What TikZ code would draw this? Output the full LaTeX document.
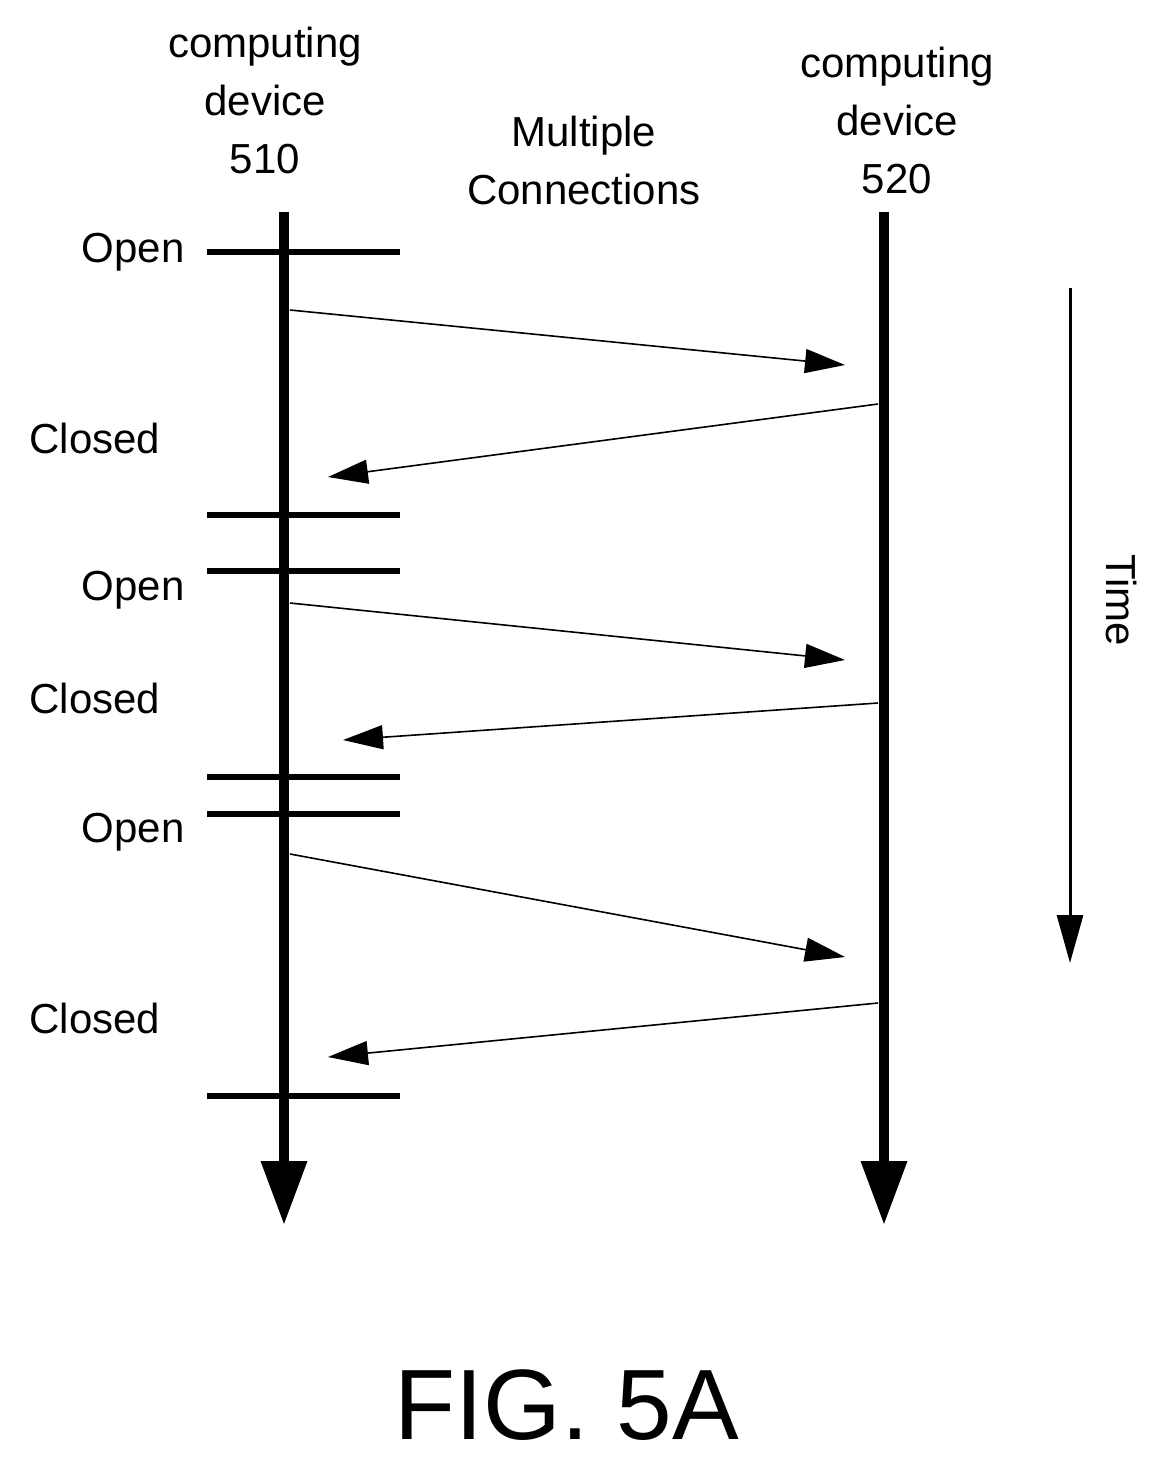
\documentclass[tikz,border=0pt]{standalone}
\usepackage{fontspec}
\setmainfont{Liberation Sans}
\usetikzlibrary{arrows.meta}
\begin{document}
\begin{tikzpicture}[x=0.5pt,y=-0.5pt,
  lbl/.style={font=\fontsize{21}{29}\selectfont,align=center,inner sep=0pt},
  timeline/.style={line width=5pt,-{Triangle[length=32pt,width=22pt]}},
  bar/.style={line width=3pt},
  msg/.style={line width=0.8pt,-{Triangle[length=20pt,width=12pt]}}]
\useasboundingbox (0,0) rectangle (1168,1463);
% timelines
\coordinate (A0) at (284,212); \coordinate (A1) at (284,1225);
\coordinate (B0) at (884,212); \coordinate (B1) at (884,1225);
\draw[timeline] (A0) -- (A1);
\draw[timeline] (B0) -- (B1);
% bars
\foreach \y [count=\i] in {252,515,571,777,814,1096}{
  \coordinate (bl\i) at (207,\y); \coordinate (br\i) at (400,\y);
  \draw[bar] (bl\i) -- (br\i);}
% messages
\foreach \ax/\ay/\bx/\by [count=\i] in {290/310/845/365, 878/404/328/477, 290/603/845/660, 878/703/343/740, 290/854/845/957, 878/1003/328/1057}{
  \coordinate (ms\i) at (\ax,\ay); \coordinate (me\i) at (\bx,\by);
  \draw[msg] (ms\i) -- (me\i);}
% time arrow
\coordinate (T0) at (1070,288); \coordinate (T1) at (1070,963);
\draw[line width=1.5pt,-{Triangle[length=24pt,width=13pt]}] (T0) -- (T1);
\node[lbl,rotate=-90] (time) at (1122,600) {Time};
% labels
\node[lbl] (d510) at (265,100) {computing\\device\\510};
\node[lbl] (d520) at (897,120) {computing\\device\\520};
\node[lbl] (mc) at (584,160) {Multiple\\Connections};
\node[lbl] (o1) at (133,252) {Open};
\node[lbl] (c1) at (95,438) {Closed};
\node[lbl] (o2) at (133,590) {Open};
\node[lbl] (c2) at (95,698) {Closed};
\node[lbl] (o3) at (133,832) {Open};
\node[lbl] (c3) at (95,1018) {Closed};
\node[inner sep=0pt,font=\fontsize{50}{60}\selectfont] (fig) at (567,1405) {FIG. 5A};
\end{tikzpicture}
\end{document}
